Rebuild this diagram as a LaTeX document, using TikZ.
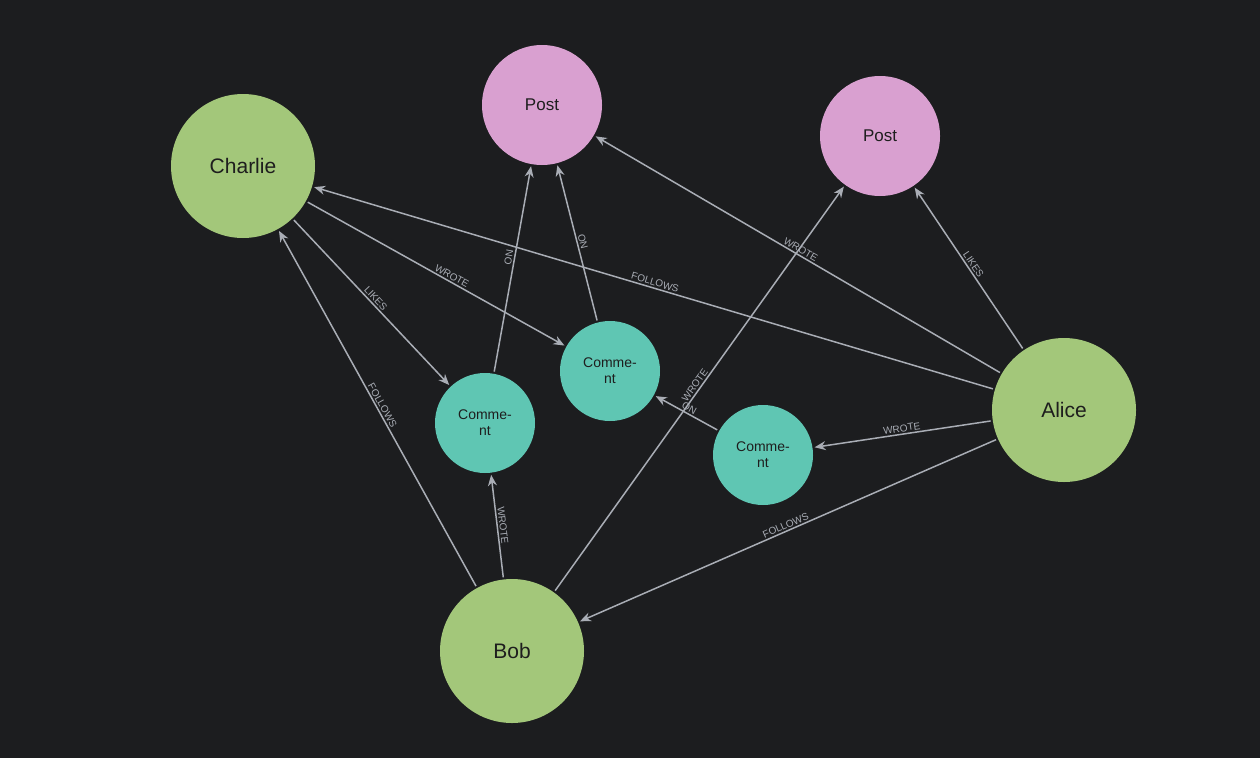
\documentclass[tikz,border=0pt]{standalone}
\usepackage{fontspec}
\setmainfont{Liberation Sans}
\usetikzlibrary{arrows.meta}
\definecolor{bg}{HTML}{1C1D1F}
\definecolor{person}{HTML}{A3C77A}
\definecolor{post}{HTML}{D9A0D0}
\definecolor{comm}{HTML}{5FC6B3}
\definecolor{edge}{HTML}{A9ADB5}
\definecolor{ink}{HTML}{1E1E1E}
\begin{document}
\begin{tikzpicture}[x=1pt,y=-1pt,
  person/.style={circle,fill=person,minimum size=144pt,inner sep=0pt,text=ink,font=\fontsize{21}{24}\selectfont},
  post/.style={circle,fill=post,minimum size=120pt,inner sep=0pt,text=ink,font=\fontsize{17}{20}\selectfont},
  comm/.style={circle,fill=comm,minimum size=100pt,inner sep=0pt,text=ink,align=center,font=\fontsize{14}{16}\selectfont},
  rel/.style={draw=edge,line width=1.5pt,-{Stealth[length=11pt,width=9pt]},shorten >=2pt,shorten <=2pt},
  lab/.style={sloped,above,inner sep=1.5pt,text=edge,font=\fontsize{10}{12}\selectfont}]
\fill[bg] (0,0) rectangle (1260,758);
\useasboundingbox (0,0) rectangle (1260,758);
\node[person] (charlie) at (243,166) {Charlie};
\node[person] (alice) at (1064,410) {Alice};
\node[person] (bob) at (512,651) {Bob};
\node[post] (p1) at (542,105) {Post};
\node[post] (p2) at (880,136) {Post};
\node[comm] (c1) at (485,423) {Comme-\\nt};
\node[comm] (c2) at (610,371) {Comme-\\nt};
\node[comm] (c3) at (763,455) {Comme-\\nt};
\draw[rel] (charlie) -- node[lab]{LIKES} (c1);
\draw[rel] (charlie) -- node[lab,pos=0.55]{WROTE} (c2);
\draw[rel] (c1) -- node[lab,pos=0.55]{ON} (p1);
\draw[rel] (c2) -- node[lab]{ON} (p1);
\draw[rel] (alice) -- node[lab]{WROTE} (p1);
\draw[rel] (alice) -- node[lab,pos=0.5]{FOLLOWS} (charlie);
\draw[rel] (alice) -- node[lab]{LIKES} (p2);
\draw[rel] (alice) -- node[lab]{WROTE} (c3);
\draw[rel] (alice) -- node[lab]{FOLLOWS} (bob);
\draw[rel] (c3) -- node[lab]{ON} (c2);
\draw[rel] (bob) -- node[lab,pos=0.5]{WROTE} (p2);
\draw[rel] (bob) -- node[lab]{FOLLOWS} (charlie);
\draw[rel] (bob) -- node[lab]{WROTE} (c1);
\end{tikzpicture}
\end{document}
